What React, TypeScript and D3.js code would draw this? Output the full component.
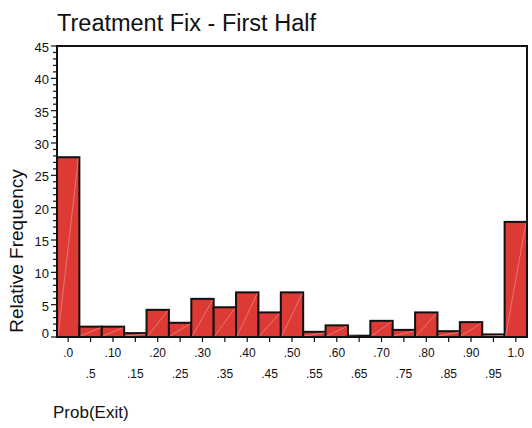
import React from "react";
import * as d3 from "d3";

const binLabels = [".0", ".5", ".10", ".15", ".20", ".25", ".30", ".35", ".40", ".45", ".50", ".55", ".60", ".65", ".70", ".75", ".80", ".85", ".90", ".95", "1.0"];
const frequencies = [27.8, 1.6, 1.6, 0.6, 4.2, 2.2, 5.9, 4.6, 6.9, 3.8, 6.9, 0.8, 1.8, 0.2, 2.5, 1.1, 3.8, 0.9, 2.3, 0.4, 17.8];
const yTicks = [0, 5, 10, 15, 20, 25, 30, 35, 40, 45];
const minorTicks = d3.range(0, 46, 1);

const title = "Treatment Fix - First Half";
const yTitle = "Relative Frequency";
const xTitle = "Prob(Exit)";

const W = 532, H = 428;
const M = { left: 57, right: 5, top: 46, bottom: 91 };
const FONT = "Liberation Sans, Arial, sans-serif";

export default function App() {
  const x = d3.scaleBand<string>().domain(binLabels).range([M.left, W - M.right]).padding(0);
  const y = d3.scaleLinear().domain([0, 45]).range([H - M.bottom, M.top]);
  const y0 = y(0);

  return (
    <svg width={W} height={H} style={{ position: "absolute", left: 0, top: 0, background: "#fff" }} fontFamily={FONT}>
      <text x={57} y={31} fontSize={23.5} fill="#111">{title}</text>
      {/* bars */}
      {frequencies.map((v, i) => {
        const x0 = x(binLabels[i])!;
        const bw = x.bandwidth();
        const top = y(v);
        return (
          <g key={i}>
            <rect x={x0} y={top} width={bw} height={y0 - top} fill="#dd3a35" stroke="#111" strokeWidth={2} />
            <line x1={x0 + 1} y1={y0 - 1} x2={x0 + bw - 1} y2={top + 1} stroke="#f3a3a0" strokeWidth={0.8} strokeOpacity={0.7} />
          </g>
        );
      })}
      {/* frame */}
      <rect x={M.left} y={M.top} width={W - M.right - M.left} height={y0 - M.top} fill="none" stroke="#111" strokeWidth={2} />
      {/* y ticks */}
      {minorTicks.map((t) => (
        <line key={"m" + t} x1={M.left - (t % 5 === 0 ? 6 : 4)} x2={M.left} y1={y(t)} y2={y(t)} stroke="#111" strokeWidth={1.2} />
      ))}
      {yTicks.map((t) => (
        <text key={t} x={M.left - 8} y={t === 0 ? y(t) + 1 : y(t) + 6} fontSize={13} textAnchor="end" fill="#111">{t}</text>
      ))}
      {/* x ticks */}
      {binLabels.map((l, i) => {
        const cx = x(l)! + x.bandwidth() / 2;
        return (
          <g key={l}>
            <line x1={cx} x2={cx} y1={y0} y2={y0 + 5} stroke="#111" strokeWidth={1.2} />
            <text x={cx} y={i % 2 === 0 ? 357 : 378} fontSize={12} textAnchor="middle" fill="#111">{l}</text>
          </g>
        );
      })}
      <text transform={`translate(23,251) rotate(-90)`} fontSize={19} textAnchor="middle" fill="#111">{yTitle}</text>
      <text x={53} y={418} fontSize={17} fill="#111">{xTitle}</text>
    </svg>
  );
}
